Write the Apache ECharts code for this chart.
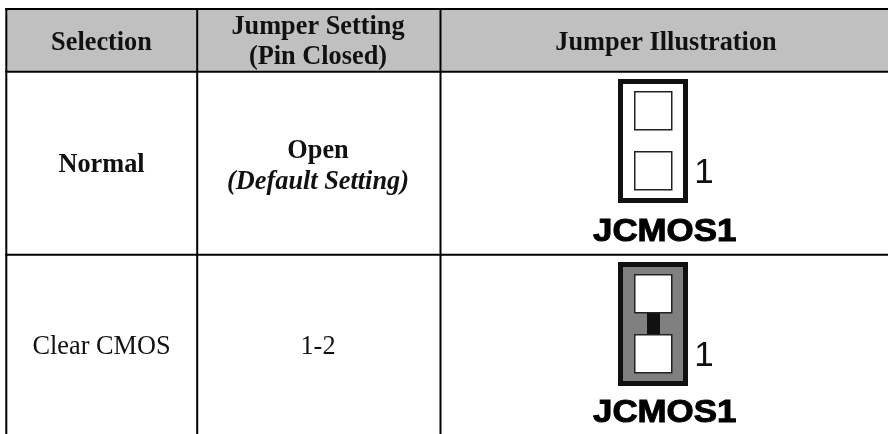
<!DOCTYPE html>
<html><head><meta charset="utf-8">
<style>html,body{margin:0;padding:0;background:#fff}#c{width:888px;height:434px}</style>
<script src="https://cdn.jsdelivr.net/npm/echarts@6/dist/echarts.min.js"></script>
</head><body><div id="c"></div>
<script>
const headers = ['Selection', 'Jumper Setting\n(Pin Closed)', 'Jumper Illustration'];
const selections = ['Normal', 'Clear CMOS'];
const settings = ['Open', '1-2'];
const settingNotes = ['(Default Setting)', ''];
const jumperStates = ['open', 'closed'];
const connectorNames = ['JCMOS1', 'JCMOS1'];
const pinLabels = ['1', '1'];

const SERIF = '"Liberation Serif","Times New Roman",serif';
const SANS = '"Liberation Sans",Arial,sans-serif';
const vLines = [6.3, 197.2, 440.5];
const hLines = [9, 71.7, 254.8];
const right = 888, bottom = 434, lineW = 2;
const colCenter = [101.5, 318, 666];
const rowCenter = [165.5, 347.5];
const jumperTop = [79, 262];
const nameY = [232.5, 413.5];
const TXT = 26.3;

const chart = echarts.init(document.getElementById('c'), null, {renderer: 'canvas'});

function renderItem(params, api) {
  const P = (x, y) => api.coord([x, y]);
  const R = (x, y, w, h, style) => {
    const a = P(x, y);
    return {type: 'rect', shape: {x: a[0], y: a[1], width: w, height: h}, style};
  };
  const T = (x, y, text, font, color) => {
    const a = P(x, y);
    return {type: 'text', style: {x: a[0], y: a[1], text, font, fill: color || '#111',
      align: 'center', verticalAlign: 'middle'}};
  };
  const N = (x, y, text) => {
    const a = P(x, y);
    return {type: 'text', x: a[0], y: a[1], scaleX: 1.09, scaleY: 1,
      style: {x: 0, y: 0, text, font: 'bold 32px ' + SANS, fill: '#000', stroke: '#000', lineWidth: 1,
        align: 'center', verticalAlign: 'middle'}};
  };
  const ch = [];
  const bFont = 'bold ' + TXT + 'px ' + SERIF;
  ch.push(R(vLines[0], hLines[0], right - vLines[0], hLines[1] - hLines[0], {fill: '#c0c0c0'}));
  hLines.forEach(y => ch.push(R(vLines[0] - 1, y - 1, right - vLines[0] + 1, lineW, {fill: '#000'})));
  vLines.forEach(x => ch.push(R(x - 1, hLines[0] - 1, lineW, bottom - hLines[0] + 1, {fill: '#000'})));
  ch.push(T(colCenter[0], 43, headers[0], bFont));
  const hd = headers[1].split('\n');
  ch.push(T(colCenter[1], 27.5, hd[0], bFont));
  ch.push(T(colCenter[1], 57.5, hd[1], bFont));
  ch.push(T(colCenter[2], 43, headers[2], bFont));
  selections.forEach((s, i) => {
    const font = (i === 0 ? 'bold ' : '') + TXT + 'px ' + SERIF;
    const cy = rowCenter[i];
    ch.push(T(colCenter[0], cy, s, font));
    if (settingNotes[i]) {
      ch.push(T(colCenter[1], 151.5, settings[i], font));
      ch.push(T(colCenter[1], 182.5, settingNotes[i], 'italic bold ' + TXT + 'px ' + SERIF));
    } else {
      ch.push(T(colCenter[1], cy, settings[i], font));
    }
    const top = jumperTop[i], closed = jumperStates[i] === 'closed';
    ch.push(R(618, top, 70, 124, {fill: '#111'}));
    ch.push(R(623, top + 5, 60, 114, {fill: closed ? '#808080' : '#fff'}));
    if (closed) ch.push(R(647, top + 50, 13, 24, {fill: '#111'}));
    [12, 72].forEach(dy => {
      ch.push(R(634, top + dy, 38.5, 39.5, {fill: '#222'}));
      ch.push(R(635.5, top + dy + 1.5, 35.5, 36.5, {fill: '#fff'}));
    });
    ch.push(T(704, top + 94, pinLabels[i], '35px ' + SANS));
    ch.push(N(664.7, nameY[i], connectorNames[i]));
  });
  return {type: 'group', children: ch};
}

chart.setOption({
  animation: false,
  backgroundColor: '#fff',
  grid: {left: 0, right: 0, top: 0, bottom: 0},
  xAxis: {type: 'value', min: 0, max: 888, show: false},
  yAxis: {type: 'value', min: 0, max: 434, inverse: true, show: false},
  series: [{type: 'custom', silent: true, clip: false, renderItem, data: [[0, 0]]}]
});
</script></body></html>
